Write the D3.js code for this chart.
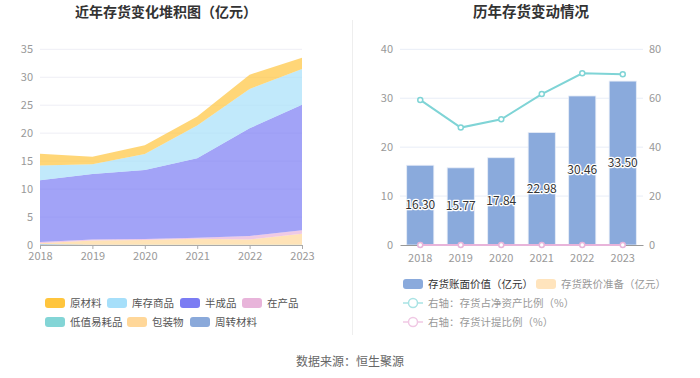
<!DOCTYPE html>
<html><head><meta charset="utf-8">
<script src="https://cdn.jsdelivr.net/npm/d3@7"></script>
<style>
html,body{margin:0;padding:0;background:#fff;}
svg{display:block;font-family:"Noto Sans CJK SC","Noto Sans",sans-serif;}
</style></head>
<body><svg id="c" width="700" height="378"></svg>
<script>
const years = ["2018","2019","2020","2021","2022","2023"];
// stacked components (亿元), bottom to top
const zhouzhuan = [0.15,0.03,0.02,0.02,0.02,0.02];
const dizhi     = [0.05,0.02,0.02,0.02,0.02,0.02];
const baozhuang = [0.10,0.77,0.86,1.06,0.96,1.96];
const zaichan   = [0.25,0.15,0.17,0.20,0.60,0.65];
const banchengpin = [11.05,11.73,12.35,14.20,19.27,22.45];
const kucun     = [2.60,1.73,2.86,5.85,7.03,6.38];
const yuancailiao = [2.10,1.34,1.56,1.63,2.56,2.02];
// right chart
const bookValue = [16.30,15.77,17.84,22.98,30.46,33.50];
const impairment = [0,0,0,0,0,0];
const ratioNetAsset = [59.3,48.0,51.4,61.7,70.2,69.8];
const ratioProvision = [0,0,0,0,0,0];
const leftTicks = [0,5,10,15,20,25,30,35];
const rightTicksL = [0,10,20,30,40];
const rightTicksR = [0,20,40,60,80];

const series = [
  {key:"周转材料", vals:zhouzhuan, color:"#8AA9DA"},
  {key:"低值易耗品", vals:dizhi, color:"#83D5D6"},
  {key:"包装物", vals:baozhuang, color:"#FFD799"},
  {key:"在产品", vals:zaichan, color:"#E8B4DA"},
  {key:"半成品", vals:banchengpin, color:"#7B7CF3"},
  {key:"库存商品", vals:kucun, color:"#A6DFFA"},
  {key:"原材料", vals:yuancailiao, color:"#FFC53D"}
];
const colorOf = Object.fromEntries(series.map(s=>[s.key,s.color]));

const svg = d3.select("#c");
const font = '"Noto Sans CJK SC","Noto Sans",sans-serif';

// titles
svg.append("text").attr("x",166).attr("y",17).attr("text-anchor","middle")
  .attr("font-size",14).attr("font-weight","bold").attr("fill","#333").text("近年存货变化堆积图（亿元）");
svg.append("text").attr("x",531).attr("y",17).attr("text-anchor","middle")
  .attr("font-size",14.5).attr("font-weight","bold").attr("fill","#333").text("历年存货变动情况");
// divider
svg.append("line").attr("x1",352.5).attr("x2",352.5).attr("y1",20).attr("y2",335)
  .attr("stroke","#EEEEEE").attr("stroke-width",1);
// source
svg.append("text").attr("x",350).attr("y",366).attr("text-anchor","middle")
  .attr("font-size",12).attr("fill","#666").text("数据来源：恒生聚源");

// ---------- left stacked area ----------
const xL = d3.scalePoint().domain(years).range([40,302]);
const yL = d3.scaleLinear().domain([0,35]).range([245,49.3]);
const gL = svg.append("g");
gL.selectAll(".gl").data(leftTicks.filter(d=>d>0)).enter().append("line")
  .attr("x1",40).attr("x2",302).attr("y1",d=>yL(d)).attr("y2",d=>yL(d))
  .attr("stroke","#EEEEF5").attr("stroke-width",1);
const table = years.map((y,i)=>{const o={year:y}; series.forEach(s=>o[s.key]=s.vals[i]); return o;});
const stack = d3.stack().keys(series.map(s=>s.key))(table);
const area = d3.area().x(d=>xL(d.data.year)).y0(d=>yL(d[0])).y1(d=>yL(d[1]));
gL.selectAll(".ar").data(stack).enter().append("path")
  .attr("d",area).attr("fill",d=>colorOf[d.key]).attr("fill-opacity",0.7);
// y labels
gL.selectAll(".yl").data(leftTicks).enter().append("text")
  .attr("x",33).attr("y",d=>yL(d)+3.5).attr("text-anchor","end")
  .attr("font-size",11).attr("fill","#999").text(d=>d);
// x axis
const axL = gL.append("g").attr("transform","translate(0,245)")
  .call(d3.axisBottom(xL).tickSize(4).tickSizeOuter(0));
axL.select(".domain").attr("stroke","#AAA");
axL.selectAll(".tick line").attr("stroke","#AAA");
axL.selectAll("text").attr("font-size",11).attr("fill","#999").attr("font-family",font).attr("y",5).attr("dy","0.95em");

// left legend
const legL = [
  {k:"原材料",x:45,y:298},{k:"库存商品",x:107,y:298},{k:"半成品",x:180,y:298},{k:"在产品",x:242,y:298},
  {k:"低值易耗品",x:45,y:317},{k:"包装物",x:127,y:317},{k:"周转材料",x:190,y:317}
];
legL.forEach(l=>{
  svg.append("rect").attr("x",l.x).attr("y",l.y).attr("width",20).attr("height",10).attr("rx",3)
    .attr("fill",colorOf[l.k]);
  svg.append("text").attr("x",l.x+25).attr("y",l.y+9).attr("font-size",10.5).attr("fill","#555").text(l.k);
});

// ---------- right bar/line ----------
const xR = d3.scaleBand().domain(years).range([400,643]).paddingInner(0.33).paddingOuter(0.165);
const yR1 = d3.scaleLinear().domain([0,40]).range([245,49.3]);
const yR2 = d3.scaleLinear().domain([0,80]).range([245,49.3]);
const gR = svg.append("g");
gR.selectAll(".gr").data(rightTicksL.filter(d=>d>0)).enter().append("line")
  .attr("x1",400).attr("x2",643).attr("y1",d=>yR1(d)).attr("y2",d=>yR1(d))
  .attr("stroke","#E8EDF7").attr("stroke-width",1);
gR.selectAll(".yl1").data(rightTicksL).enter().append("text")
  .attr("x",393).attr("y",d=>yR1(d)+4).attr("text-anchor","end")
  .attr("font-size",11).attr("fill","#999").text(d=>d);
gR.selectAll(".yl2").data(rightTicksR).enter().append("text")
  .attr("x",649).attr("y",d=>yR2(d)+4).attr("text-anchor","start")
  .attr("font-size",11).attr("fill","#999").text(d=>d);
gR.selectAll(".bar").data(bookValue).enter().append("rect")
  .attr("x",(d,i)=>xR(years[i])).attr("width",xR.bandwidth())
  .attr("y",d=>yR1(d)).attr("height",d=>245-yR1(d))
  .attr("fill","#8AAADC").attr("stroke","#E6ECF7").attr("stroke-width",0.8);
gR.selectAll(".bar2").data(impairment).enter().append("rect")
  .attr("x",(d,i)=>xR(years[i])).attr("width",xR.bandwidth())
  .attr("y",(d,i)=>yR1(bookValue[i]+d)).attr("height",(d)=>245-yR1(d))
  .attr("fill","#FFE4BD");
const axR = gR.append("g").attr("transform","translate(0,245)")
  .call(d3.axisBottom(xR).tickSize(0).tickSizeOuter(0));
axR.select(".domain").attr("stroke","#999");
axR.selectAll("text").attr("font-size",11).attr("fill","#999").attr("font-family",font).attr("dy","1.25em");
gR.selectAll(".bl").data(bookValue).enter().append("text")
  .attr("x",(d,i)=>xR(years[i])+xR.bandwidth()/2).attr("y",d=>(yR1(d)+245)/2+4)
  .attr("text-anchor","middle").attr("font-size",12).attr("fill","#333")
  .attr("stroke","#fff").attr("stroke-width",2.5).attr("paint-order","stroke").attr("stroke-linejoin","round")
  .text(d=>d.toFixed(2));
const cx = (i)=>xR(years[i])+xR.bandwidth()/2;
const lineR = d3.line().x((d,i)=>cx(i)).y(d=>yR2(d));
gR.append("path").datum(ratioProvision).attr("d",lineR).attr("fill","none")
  .attr("stroke","#E8B4DA").attr("stroke-width",2);
gR.selectAll(".pp").data(ratioProvision).enter().append("circle")
  .attr("cx",(d,i)=>cx(i)).attr("cy",d=>yR2(d)).attr("r",2.5)
  .attr("fill","#fff").attr("stroke","#E8B4DA").attr("stroke-width",1.5);
gR.append("path").datum(ratioNetAsset).attr("d",lineR).attr("fill","none")
  .attr("stroke","#7FD4D6").attr("stroke-width",2);
gR.selectAll(".pn").data(ratioNetAsset).enter().append("circle")
  .attr("cx",(d,i)=>cx(i)).attr("cy",d=>yR2(d)).attr("r",2.5)
  .attr("fill","#fff").attr("stroke","#7FD4D6").attr("stroke-width",1.5);

// right legend
svg.append("rect").attr("x",403).attr("y",279).attr("width",20).attr("height",10).attr("rx",3).attr("fill","#8AAADC");
svg.append("text").attr("x",428).attr("y",288).attr("font-size",10.5).attr("fill","#333").text("存货账面价值（亿元）");
svg.append("rect").attr("x",536).attr("y",279).attr("width",20).attr("height",10).attr("rx",3).attr("fill","#FFE4BD");
svg.append("text").attr("x",561).attr("y",288).attr("font-size",10.5).attr("fill","#999").text("存货跌价准备（亿元）");
[{y:303,c:"#A9E3E4",t:"右轴：存货占净资产比例（%）"},{y:322,c:"#F0C8E4",t:"右轴：存货计提比例（%）"}].forEach(l=>{
  svg.append("line").attr("x1",403).attr("x2",423).attr("y1",l.y).attr("y2",l.y).attr("stroke",l.c).attr("stroke-width",1.5);
  svg.append("circle").attr("cx",413).attr("cy",l.y).attr("r",4.5).attr("fill","#fff").attr("stroke",l.c).attr("stroke-width",1.5);
  svg.append("text").attr("x",428).attr("y",l.y+4).attr("font-size",10.5).attr("fill","#999").text(l.t);
});
</script></body></html>
